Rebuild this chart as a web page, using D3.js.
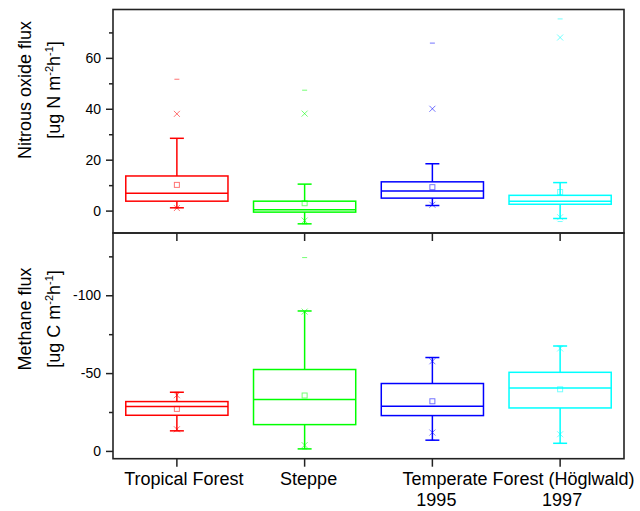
<!DOCTYPE html>
<html>
<head>
<meta charset="utf-8">
<script src="https://cdn.jsdelivr.net/npm/d3@7"></script>
<style>
  body { margin: 0; background: #fff; }
  svg { font-family: "Liberation Sans", Arial, sans-serif; }
</style>
</head>
<body>
<svg id="chart"></svg>
<script>
const sites = ['Tropical Forest', 'Steppe', 'Temperate 1995', 'Temperate 1997'];
const colors = ['#ff0000', '#00ff00', '#0000ff', '#00ffff'];

// N2O flux stats per site
const n2oMin = [1.0, -5.2, 2.0, -4.3];
const n2oP1 = [1.0, -3.9, 2.3, -2.6];
const n2oLow = [1.1, -5.2, 2.0, -3.1];
const n2oQ1 = [3.7, -0.6, 4.9, 2.5];
const n2oMedian = [6.8, 0.3, 7.7, 3.7];
const n2oMean = [10.1, 2.9, 9.2, 7.3];
const n2oQ3 = [13.6, 3.7, 11.3, 6.0];
const n2oHigh = [28.4, 10.4, 18.4, 11.0];
const n2oP99 = [38.0, 38.1, 40.0, 68.0];
const n2oMax = [51.6, 47.3, 65.8, 75.3];

// CH4 flux stats per site
const ch4Min = [-37.7, -124.2, -60.0, -67.4];
const ch4P1 = [-35.8, -89.5, -57.6, -65.8];
const ch4Low = [-37.7, -89.9, -60.0, -67.4];
const ch4Q1 = [-31.7, -52.3, -43.3, -50.5];
const ch4Median = [-28.5, -33.0, -28.7, -40.5];
const ch4Mean = [-27.0, -35.6, -31.9, -39.6];
const ch4Q3 = [-22.9, -16.9, -22.7, -27.6];
const ch4High = [-12.9, -1.3, -6.9, -4.9];
const ch4P99 = [-13.9, -3.7, -11.8, -10.7];
const ch4Max = [-12.9, -1.3, -6.9, -4.9];

const n2oTicks = [0, 20, 40, 60];
const n2oMinor = [10, 30, 50, 70];
const ch4Ticks = [0, -50, -100];
const ch4Minor = [-25, -75, -125];

const width = 640;
const height = 511;
const marginLeft = 113;
const marginRight = 624;
const marginTop = 9.5;
const midY = 233;
const bottomY = 458.7;

const svg = d3.select('#chart')
  .attr('width', width)
  .attr('height', height);

const x = d3.scaleBand()
  .domain(sites)
  .range([marginLeft, marginRight])
  .padding(0);

const yTop = d3.scaleLinear().domain([-8.8, 79]).range([midY, marginTop]);
const yBot = d3.scaleLinear().domain([5, -140]).range([bottomY, midY]);

function rows(min, p1, low, q1, med, mean, q3, high, p99, max) {
  return sites.map((s, i) => ({
    site: s, color: colors[i],
    min: min[i], p1: p1[i], low: low[i], q1: q1[i], med: med[i],
    mean: mean[i], q3: q3[i], high: high[i], p99: p99[i], max: max[i]
  }));
}

const n2oRows = rows(n2oMin, n2oP1, n2oLow, n2oQ1, n2oMedian, n2oMean, n2oQ3, n2oHigh, n2oP99, n2oMax);
const ch4Rows = rows(ch4Min, ch4P1, ch4Low, ch4Q1, ch4Median, ch4Mean, ch4Q3, ch4High, ch4P99, ch4Max);

function drawBoxes(rowsData, y) {
  const boxW = x.bandwidth() * 0.8;
  const g = svg.append('g')
    .selectAll('g')
    .data(rowsData)
    .join('g')
    .attr('transform', d => `translate(${x(d.site) + x.bandwidth() / 2},0)`)
    .attr('stroke', d => d.color)
    .attr('fill', 'none');

  // whiskers
  g.append('line')
    .attr('x1', 0).attr('x2', 0)
    .attr('y1', d => y(d.q3)).attr('y2', d => y(d.high))
    .attr('stroke-width', 1.5);
  g.append('line')
    .attr('x1', 0).attr('x2', 0)
    .attr('y1', d => y(d.q1)).attr('y2', d => y(d.low))
    .attr('stroke-width', 1.5);
  g.append('line')
    .attr('x1', -7).attr('x2', 7)
    .attr('y1', d => y(d.high)).attr('y2', d => y(d.high))
    .attr('stroke-width', 1.5);
  g.append('line')
    .attr('x1', -7).attr('x2', 7)
    .attr('y1', d => y(d.low)).attr('y2', d => y(d.low))
    .attr('stroke-width', 1.5);

  // box
  g.append('rect')
    .attr('x', -boxW / 2)
    .attr('width', boxW)
    .attr('y', d => Math.min(y(d.q1), y(d.q3)))
    .attr('height', d => Math.abs(y(d.q1) - y(d.q3)))
    .attr('stroke-width', 1.5);
  g.append('line')
    .attr('x1', -boxW / 2).attr('x2', boxW / 2)
    .attr('y1', d => y(d.med)).attr('y2', d => y(d.med))
    .attr('stroke-width', 1.5);

  // markers, drawn lighter
  const m = g.append('g').attr('stroke-opacity', 0.55).attr('stroke-width', 1);
  m.append('rect')
    .attr('x', -2.5).attr('width', 5).attr('height', 5)
    .attr('y', d => y(d.mean) - 2.5);
  ['p1', 'p99'].forEach(k => {
    m.append('path')
      .attr('d', d => {
        const cy = y(d[k]);
        return `M-3,${cy - 3}L3,${cy + 3}M-3,${cy + 3}L3,${cy - 3}`;
      });
  });
  ['min', 'max'].forEach(k => {
    m.append('line')
      .attr('x1', -2.5).attr('x2', 2.5)
      .attr('y1', d => y(d[k])).attr('y2', d => y(d[k]));
  });
}

drawBoxes(n2oRows, yTop);
drawBoxes(ch4Rows, yBot);

// y axes
function yAxis(y, ticks, minor) {
  svg.append('g')
    .attr('transform', `translate(${marginLeft},0)`)
    .call(d3.axisLeft(y).tickValues(minor).tickSize(4).tickFormat(''))
    .call(g => g.select('.domain').remove());
  svg.append('g')
    .attr('transform', `translate(${marginLeft},0)`)
    .call(d3.axisLeft(y).tickValues(ticks).tickSize(7).tickPadding(5).tickFormat(d => String(d)))
    .call(g => g.select('.domain').remove())
    .call(g => g.selectAll('text').attr('font-size', 14).attr('fill', '#000'))
    .attr('font-family', null);
}
yAxis(yTop, n2oTicks, n2oMinor);
yAxis(yBot, ch4Ticks, ch4Minor);

// category ticks
svg.append('g')
  .attr('transform', `translate(0,${midY})`)
  .call(d3.axisBottom(x).tickSize(8).tickFormat(''))
  .call(g => g.select('.domain').remove());
svg.append('g')
  .attr('transform', `translate(0,${bottomY})`)
  .call(d3.axisBottom(x).tickSize(8).tickFormat(''))
  .call(g => g.select('.domain').remove());

svg.selectAll('.tick line').attr('stroke', '#222').attr('stroke-width', 1.5);

// frames
svg.append('rect')
  .attr('x', marginLeft).attr('y', marginTop)
  .attr('width', marginRight - marginLeft).attr('height', midY - marginTop)
  .attr('fill', 'none').attr('stroke', '#222').attr('stroke-width', 1.6);
svg.append('rect')
  .attr('x', marginLeft).attr('y', midY)
  .attr('width', marginRight - marginLeft).attr('height', bottomY - midY)
  .attr('fill', 'none').attr('stroke', '#222').attr('stroke-width', 1.6);

// x labels
const cx = i => x(sites[i]) + x.bandwidth() / 2;
const xl = svg.append('g').attr('font-size', 18).attr('fill', '#000');
xl.append('text').attr('x', cx(0) + 7).attr('y', 485).attr('text-anchor', 'middle').text('Tropical Forest');
xl.append('text').attr('x', cx(1) + 4).attr('y', 485).attr('text-anchor', 'middle').text('Steppe');
xl.append('text').attr('x', cx(2) - 30).attr('y', 485).attr('text-anchor', 'start').text('Temperate Forest (Höglwald)');
xl.append('text').attr('x', cx(2) + 4).attr('y', 506).attr('text-anchor', 'middle').text('1995');
xl.append('text').attr('x', cx(3) + 2).attr('y', 506).attr('text-anchor', 'middle').text('1997');

// y titles
function yTitle(cy, line1, unit) {
  const g = svg.append('g').attr('font-size', 18).attr('fill', '#000').attr('text-anchor', 'middle');
  g.append('text')
    .attr('transform', `translate(31,${cy}) rotate(-90)`)
    .text(line1);
  const t = g.append('text')
    .attr('transform', `translate(60,${cy}) rotate(-90)`);
  t.append('tspan').text(`[ug ${unit} m`);
  t.append('tspan').attr('font-size', 11).attr('dy', -7).text('-2');
  t.append('tspan').attr('dy', 7).text('h');
  t.append('tspan').attr('font-size', 11).attr('dy', -7).text('-1');
  t.append('tspan').attr('dy', 7).text(']');
}
yTitle(90, 'Nitrous oxide flux', 'N');
yTitle(319, 'Methane flux', 'C');
</script>
</body>
</html>
